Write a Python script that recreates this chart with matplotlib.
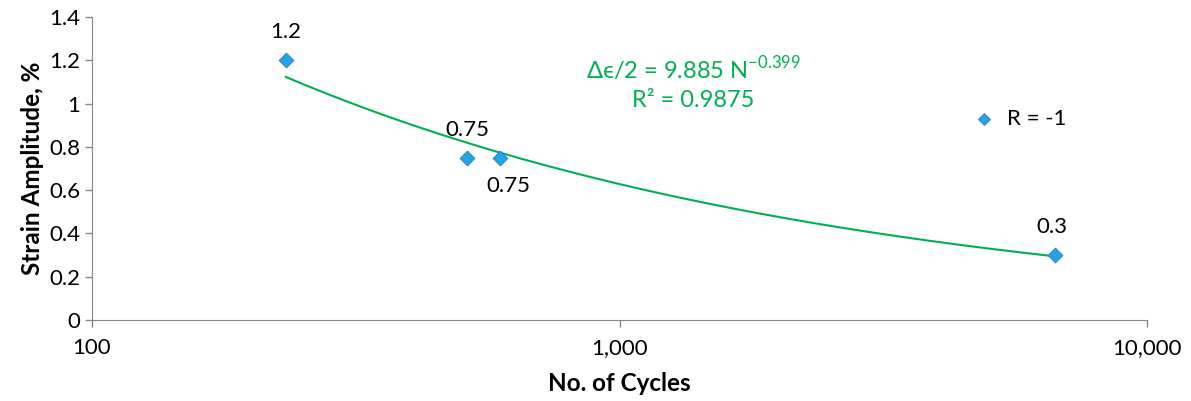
import numpy as np
import matplotlib
matplotlib.use("Agg")
import matplotlib.pyplot as plt
from matplotlib.ticker import FixedLocator, NullLocator

plt.rcParams['font.family'] = ['Lato', 'DejaVu Sans']
plt.rcParams['mathtext.fontset'] = 'custom'
plt.rcParams['mathtext.rm'] = 'Lato'
plt.rcParams['mathtext.it'] = 'DejaVu Sans:italic'

# Data
cycles = [233, 514, 594, 6690]
strain_amp = [1.2, 0.75, 0.75, 0.3]
point_labels = ["1.2", "0.75", "0.75", "0.3"]
fit_coef = 9.885
fit_exp = -0.399
r_squared = 0.9875
series_name = "R = -1"
x_ticks = [100, 1000, 10000]
x_ticklabels = ["100", "1,000", "10,000"]
y_ticks = [0, 0.2, 0.4, 0.6, 0.8, 1, 1.2, 1.4]
y_ticklabels = ["0", "0.2", "0.4", "0.6", "0.8", "1", "1.2", "1.4"]

green = '#00B050'
fig = plt.figure(figsize=(11.91, 4.01), dpi=100)
ax = fig.add_axes([92/1191, 1-320/401, (1147-92)/1191, (320-17)/401])

ax.set_xscale('log')
ax.set_xlim(100, 10000)
ax.set_ylim(0, 1.4)

# trendline
xf = np.logspace(np.log10(min(cycles)), np.log10(max(cycles)), 200)
ax.plot(xf, fit_coef * xf ** fit_exp, color=green, lw=1.5, zorder=2)

ax.scatter(cycles, strain_amp, marker='D', s=55, facecolor='#1FA6EA',
           edgecolor='#3F7FC0', linewidth=0.8, zorder=3, label=series_name)

offsets = [(0, 13), (0, 13), (6, -13), (-2, 13)]
vas = ['bottom', 'bottom', 'top', 'bottom']
for x, y, lab, off, va in zip(cycles, strain_amp, point_labels, offsets, vas):
    ax.annotate(lab, (x, y), xytext=off, textcoords='offset points',
                ha='center', va=va, fontsize=16, color='black')

ax.text(0.57, 0.83, "Δϵ/2 = %.3f N$^{\\mathrm{%.3f}}$" % (fit_coef, fit_exp),
        transform=ax.transAxes, ha='center', va='center', fontsize=17, color=green)
ax.text(0.57, 0.725, "R² = %.4f" % r_squared, transform=ax.transAxes,
        ha='center', va='center', fontsize=17, color=green)

leg = ax.legend(loc='center left', bbox_to_anchor=(0.816, 0.665), frameon=False,
                fontsize=16, handletextpad=0.05, markerscale=0.8, borderaxespad=0)

ax.xaxis.set_major_locator(FixedLocator(x_ticks))
ax.xaxis.set_minor_locator(NullLocator())
ax.set_xticklabels(x_ticklabels)
ax.set_yticks(y_ticks)
ax.set_yticklabels(y_ticklabels)
ax.tick_params(axis='both', labelsize=16, colors='#888888', labelcolor='black',
               length=5, width=1, direction='out')
ax.tick_params(axis='x', pad=8)
for s in ['top', 'right']:
    ax.spines[s].set_visible(False)
for s in ['left', 'bottom']:
    ax.spines[s].set_color('#888888')

ax.set_xlabel("No. of Cycles", fontsize=17.5, fontweight='bold', labelpad=10)
ax.set_ylabel("Strain Amplitude, %", fontsize=17.5, fontweight='bold', labelpad=4)

fig.savefig("out.png", dpi=100)
